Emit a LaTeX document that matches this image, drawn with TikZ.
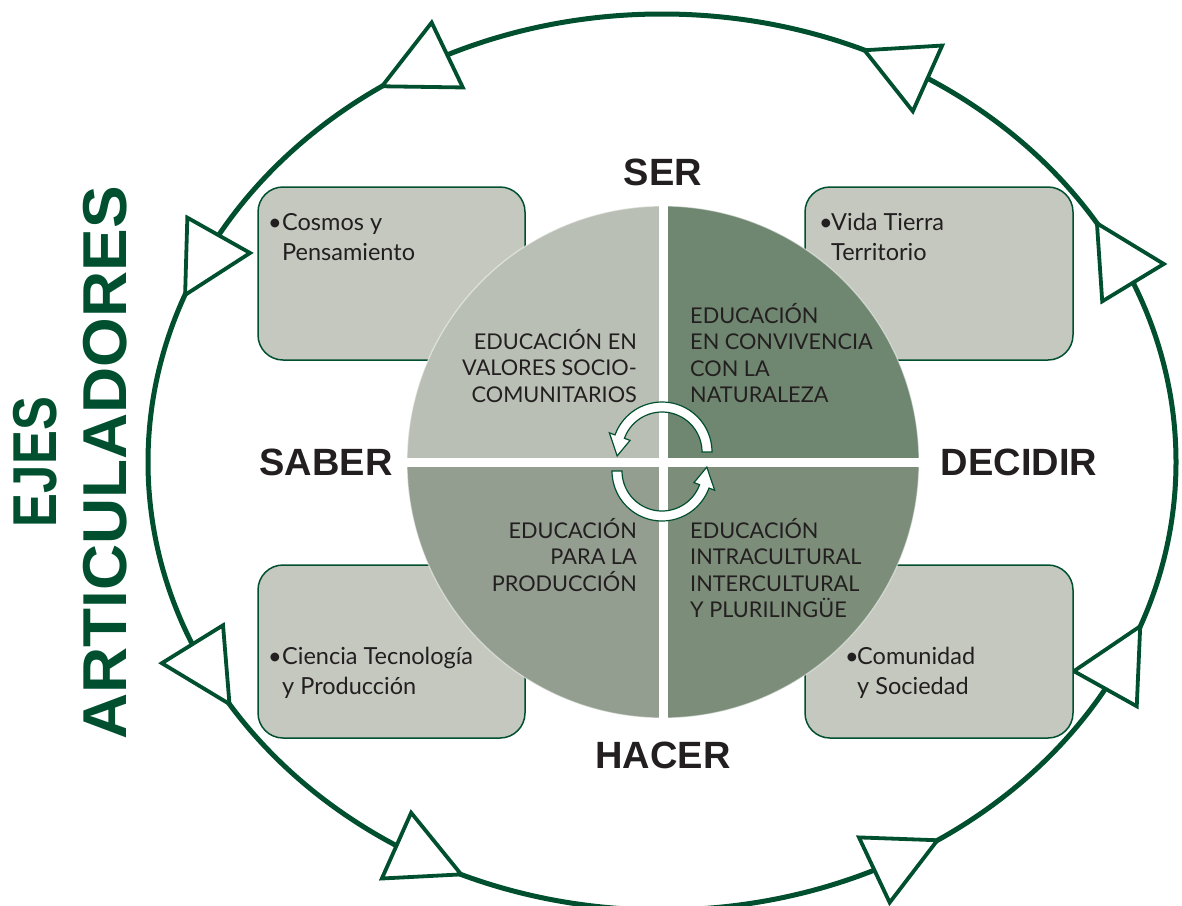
\documentclass[tikz,border=0pt]{standalone}
\usepackage{fontspec}
\usetikzlibrary{calc}
\newfontfamily\labfont{Liberation Sans}
\newfontfamily\txtfont{Lato}
\definecolor{eg}{HTML}{00502F}
\definecolor{boxc}{HTML}{C4C8BF}
\definecolor{qtl}{HTML}{B9BFB5}
\definecolor{qtr}{HTML}{6F8670}
\definecolor{qbl}{HTML}{939D90}
\definecolor{qbr}{HTML}{7C8D7A}
\definecolor{ink}{HTML}{231F20}
\tikzset{
  tri/.style={draw=eg, line width=3.8pt, fill=white, line join=miter},
  boxshape/.style={draw=eg, line width=1.5pt, fill=boxc, rounded corners=25pt},
  lab/.style={font=\labfont\bfseries\fontsize{38}{40}\selectfont, text=ink, inner sep=0pt},
  ejes/.style={font=\labfont\bfseries\fontsize{62}{64}\selectfont, text=eg, inner sep=0pt, rotate=90},
  qtext/.style={font=\txtfont\fontsize{21.7}{26.5}\selectfont, text=ink, inner sep=0pt},
  btext/.style={font=\txtfont\fontsize{23.5}{30}\selectfont, text=ink, inner sep=0pt, align=left},
  cyc/.style={draw=eg, line width=1.2pt, fill=white, line join=miter}
}
\newcommand{\cyctri}[3]{%
  \coordinate (B#1) at ({662+514*cos(#2)},{462+448*sin(#2)});
  \coordinate (T#1) at ({662+514*cos(#3)},{462+448*sin(#3)});
  \filldraw[tri] ($(B#1)!36pt!90:(T#1)$) -- ($(B#1)!36pt!-90:(T#1)$) -- (T#1) -- cycle;}
\begin{document}
\begin{tikzpicture}[x=1pt,y=-1pt]
\useasboundingbox (0,0) rectangle (1182,905);

% outer cycle
\draw[eg, line width=5pt] (662,462) ellipse[x radius=514, y radius=448];
\cyctri{1}{-114.7}{-123.0}
\cyctri{2}{-58.9}{-66.8}
\cyctri{3}{-23.6}{-32.2}
\cyctri{4}{30.4}{21.5}
\cyctri{5}{65.6}{57.6}
\cyctri{6}{121.1}{113.0}
\cyctri{7}{156.0}{147.3}
\cyctri{8}{-149.6}{-158.1}

% boxes
\draw[boxshape] (258,187) rectangle (525,360);
\draw[boxshape] (805,187) rectangle (1073,360);
\draw[boxshape] (258,565) rectangle (525,738);
\draw[boxshape] (805,565) rectangle (1073,738);

\node[btext, anchor=west] (b1) at (268,237) {\makebox[14pt][l]{\textbullet}Cosmos y\\\hspace*{14pt}Pensamiento};
\node[btext, anchor=west] (b2) at (819,237) {\makebox[12pt][l]{\textbullet}Vida Tierra\\\hspace*{12pt}Territorio};
\node[btext, anchor=west] (b3) at (268,673) {\makebox[14pt][l]{\textbullet}Ciencia Tecnología\\\hspace*{14pt}y Producción};
\node[btext, anchor=west] (b4) at (845,673) {\makebox[12pt][l]{\textbullet}Comunidad\\\hspace*{12pt}y Sociedad};

% circle quadrants
\fill[qtl] (663,462) -- (407,462) arc[start angle=180, end angle=270, radius=256] -- cycle;
\fill[qtr] (663,462) -- (663,206) arc[start angle=270, end angle=360, radius=256] -- cycle;
\fill[qbr] (663,462) -- (919,462) arc[start angle=0, end angle=90, radius=256] -- cycle;
\fill[qbl] (663,462) -- (663,718) arc[start angle=90, end angle=180, radius=256] -- cycle;
\draw[white, opacity=0.5, line width=1.2pt] (663,462) circle[radius=256];
\fill[white] (658.5,203) rectangle (667.5,721);
\fill[white] (404,457.5) rectangle (922,466.5);

% quadrant texts
\node[qtext, align=right, anchor=east] (q1) at (637,366) {EDUCACIÓN EN\\VALORES SOCIO-\\COMUNITARIOS};
\node[qtext, align=left, anchor=west] (q2) at (690,353) {EDUCACIÓN\\EN CONVIVENCIA\\CON LA\\NATURALEZA};
\node[qtext, align=right, anchor=east] (q3) at (637,555) {EDUCACIÓN\\PARA LA\\PRODUCCIÓN};
\node[qtext, align=left, anchor=west] (q4) at (690,568) {EDUCACIÓN\\INTRACULTURAL\\INTERCULTURAL\\Y PLURILINGÜE};

% central cycle arrows
\filldraw[cyc] plot[domain=0:-160, samples=40] ({662+50*cos(\x)},{452+50*sin(\x)})
  -- ({662+56*cos(-160)},{452+56*sin(-160)})
  -- ({662+45*cos(-185)},{452+45*sin(-185)})
  -- ({662+34*cos(-160)},{452+34*sin(-160)})
  -- plot[domain=-160:0, samples=40] ({662+40*cos(\x)},{452+40*sin(\x)}) -- cycle;
\filldraw[cyc] plot[domain=180:20, samples=40] ({662+50*cos(\x)},{471+50*sin(\x)})
  -- ({662+56*cos(20)},{471+56*sin(20)})
  -- ({662+45*cos(-5)},{471+45*sin(-5)})
  -- ({662+34*cos(20)},{471+34*sin(20)})
  -- plot[domain=20:180, samples=40] ({662+40*cos(\x)},{471+40*sin(\x)}) -- cycle;

% labels
\node[lab] (ser) at (663,172) {SER};
\node[lab] (saber) at (326,462) {SABER};
\node[lab] (decidir) at (1019,462) {DECIDIR};
\node[lab] (hacer) at (663,755) {HACER};
\node[ejes, xscale=0.82] (ej1) at (35,462) {EJES};
\node[ejes, xscale=1.03] (ej2) at (105,463) {ARTICULADORES};
\end{tikzpicture}
\end{document}
